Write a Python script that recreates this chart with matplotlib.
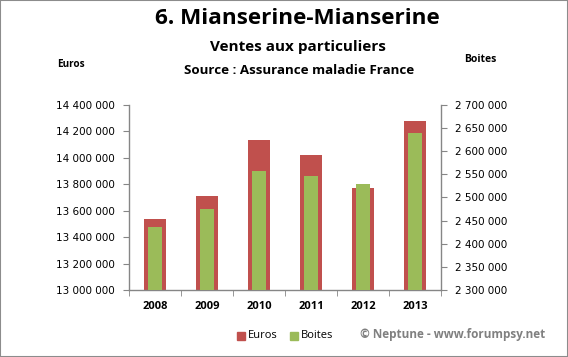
import numpy as np
import matplotlib.pyplot as plt
from matplotlib.patches import Rectangle

years = ['2008', '2009', '2010', '2011', '2012', '2013']
euros = [13537000, 13711000, 14135000, 14022000, 13772000, 14279000]
boites = [2436000, 2475000, 2557000, 2546000, 2529000, 2639000]

euro_ticks = np.arange(13000000, 14400001, 200000)
boite_ticks = np.arange(2300000, 2700001, 50000)

red = '#C0504D'
green = '#9BBB59'
axis_col = '#868686'
font = ['Open Sans', 'DejaVu Sans']


def fmt(v):
    return '{:,}'.format(int(v)).replace(',', ' ')


fig = plt.figure(figsize=(5.68, 3.57), dpi=100)
fig.patches.append(Rectangle((0, 0), 1, 1, transform=fig.transFigure, fill=False,
                             edgecolor='#8c8c8c', linewidth=1.5))

ax = fig.add_axes([0.2271, 0.1877, 0.5493, 0.5182])
ax2 = ax.twinx()
x = np.arange(len(years))

ax.bar(x, euros, width=0.43, color=red, zorder=2)
ax2.bar(x, boites, width=0.27, color=green, zorder=3)

ax.set_xlim(-0.5, 5.5)
ax.set_ylim(13000000, 14400000)
ax2.set_ylim(2300000, 2700000)

ax.set_yticks(euro_ticks)
ax.set_yticklabels([fmt(v) for v in euro_ticks], fontsize=7.5, family='DejaVu Sans')
ax2.set_yticks(boite_ticks)
ax2.set_yticklabels([fmt(v) for v in boite_ticks], fontsize=7.5, family='DejaVu Sans')

ax.set_xticks(x)
ax.set_xticklabels(years, fontsize=8, fontweight='bold', family=font)
ax.set_xticks(np.arange(-0.5, 6, 1), minor=True)
ax.tick_params(axis='x', which='major', length=0, pad=8)
ax.tick_params(axis='x', which='minor', length=4, color=axis_col, direction='out')
ax.tick_params(axis='y', length=4, color=axis_col, pad=6)
ax2.tick_params(axis='y', length=4, color=axis_col, pad=6)

for a in (ax, ax2):
    for s in ['top', 'right', 'left', 'bottom']:
        a.spines[s].set_visible(False)
ax.spines['left'].set_visible(True)
ax.spines['bottom'].set_visible(True)
ax2.spines['right'].set_visible(True)
for s in [ax.spines['left'], ax.spines['bottom'], ax2.spines['right']]:
    s.set_color(axis_col)
    s.set_linewidth(1)

# titles
fig.text(0.524, 0.947, '6. Mianserine-Mianserine', ha='center', va='center',
         fontsize=16.2, fontweight='bold', family=font)
fig.text(0.524, 0.868, 'Ventes aux particuliers', ha='center', va='center',
         fontsize=11, fontweight='bold', family=font)
fig.text(0.527, 0.803, 'Source : Assurance maladie France', ha='center', va='center',
         fontsize=9.6, fontweight='bold', family=font)
fig.text(0.125, 0.818, 'Euros', ha='center', va='center', fontsize=7.2,
         fontweight='bold', family=font)
fig.text(0.845, 0.832, 'Boites', ha='center', va='center', fontsize=7.5,
         fontweight='bold', family=font)

fig.text(0.797, 0.064, '© Neptune - www.forumpsy.net', ha='center', va='center',
         fontsize=8.5, fontweight='bold', color='#808080', family=font)

# legend
fig.patches.append(Rectangle((0.417, 0.048), 0.0141, 0.0224, transform=fig.transFigure,
                             color=red))
fig.text(0.436, 0.059, 'Euros', ha='left', va='center', fontsize=8, family=font)
fig.patches.append(Rectangle((0.511, 0.048), 0.0141, 0.0224, transform=fig.transFigure,
                             color=green))
fig.text(0.529, 0.059, 'Boites', ha='left', va='center', fontsize=8, family=font)

fig.savefig('out.png', dpi=100)
